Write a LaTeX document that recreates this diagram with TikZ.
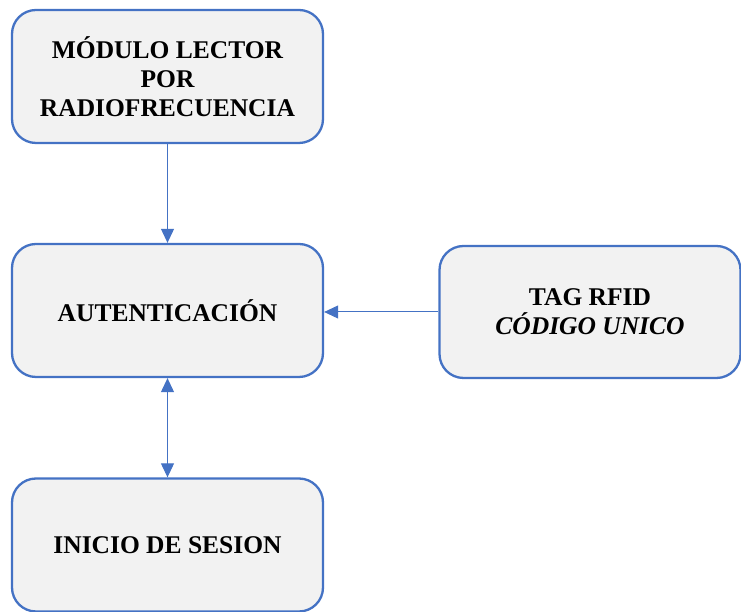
\documentclass[tikz,border=0pt]{standalone}
\usepackage{fontspec}
\setmainfont{Liberation Serif}
\usetikzlibrary{arrows.meta}
\definecolor{edgeblue}{HTML}{4472C4}
\definecolor{boxfill}{HTML}{F2F2F2}
\tikzset{
  block/.style={draw=edgeblue, fill=boxfill, line width=2.3pt, rounded corners=24pt,
    inner sep=0pt, align=center, font=\fontsize{25.5}{29}\selectfont\bfseries,
    minimum width=311pt, minimum height=133pt},
  link/.style={draw=edgeblue, line width=1pt, -{Triangle[length=14pt,width=13pt]}},
  duallink/.style={draw=edgeblue, line width=1pt, {Triangle[length=14pt,width=13pt]}-{Triangle[length=14pt,width=13pt]}}
}
\begin{document}
\begin{tikzpicture}[x=1pt,y=1pt]
\useasboundingbox (0,0) rectangle (741,612);
\node[block] (mod) at (167.5,535.5) {MÓDULO LECTOR\\POR\\RADIOFRECUENCIA};
\node[block] (aut) at (167.5,301.5) {AUTENTICACIÓN};
\node[block, minimum width=301pt, minimum height=132pt] (tag) at (590,300) {TAG RFID\\\textit{CÓDIGO UNICO}};
\node[block] (ini) at (167.5,67) {INICIO DE SESION};
\draw[link] (mod.south) -- (aut.north);
\draw[link] (tag.west) -- (tag.west -| aut.east);
\draw[duallink] (aut.south) -- (ini.north);
\end{tikzpicture}
\end{document}
